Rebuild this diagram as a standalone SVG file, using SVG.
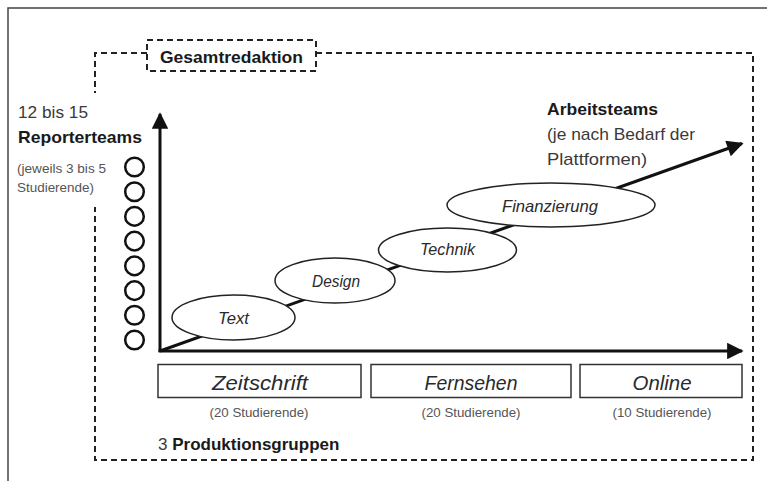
<svg xmlns="http://www.w3.org/2000/svg" width="767" height="481" viewBox="0 0 767 481">
  <defs>
    <marker id="arrow" viewBox="0 0 10 10" refX="9" refY="5" markerWidth="6" markerHeight="5.5" markerUnits="strokeWidth" orient="auto">
      <path d="M0,0 L10,5 L0,10 Z" fill="#111"/>
    </marker>
    <style>
      text { font-family: "Liberation Sans", Arial, sans-serif; fill: #222; }
      .bold { font-weight: bold; fill: #1a1a1a; }
      .light { fill: #3a3a3a; }
      .small { font-size: 13px; fill: #555; }
      .label { font-style: italic; font-size: 16.5px; text-anchor: middle; fill: #2a2a2a; }
      .plat { font-style: italic; font-size: 21px; text-anchor: middle; fill: #2a2a2a; }
      .dash { fill: none; stroke: #222; stroke-width: 2; stroke-dasharray: 6 4; }
      .axis { fill: none; stroke: #111; stroke-width: 3; }
      .ell { fill: #fff; stroke: #222; stroke-width: 1.5; }
      .box { fill: #fff; stroke: #333; stroke-width: 1.5; }
      .team { fill: none; stroke: #111; stroke-width: 2.5; }
    </style>
  </defs>

  <rect width="767" height="481" fill="#fff"/>

  <!-- outer frame -->
  <g id="frame">
    <path d="M8,481 L8,8 L767,8" fill="none" stroke="#444" stroke-width="1.5"/>
  </g>

  <!-- Gesamtredaktion dashed region -->
  <g id="gesamtredaktion-region">
    <path class="dash" d="M147,53 L95,53 L95,93"/>
    <path class="dash" d="M316,53 L753,53 L753,460 L95,460 L95,207"/>
  </g>

  <g id="gesamtredaktion">
    <rect class="dash" x="147" y="40" width="169" height="31" fill="#fff"/>
    <text class="bold" x="231.5" y="63" font-size="17" text-anchor="middle" textLength="143" lengthAdjust="spacingAndGlyphs">Gesamtredaktion</text>
  </g>

  <!-- Reporterteams -->
  <g id="reporterteams-label">
    <text class="light" x="18" y="118" font-size="17" textLength="70" lengthAdjust="spacingAndGlyphs">12 bis 15</text>
    <text class="bold" x="18" y="143" font-size="17" textLength="124" lengthAdjust="spacingAndGlyphs">Reporterteams</text>
    <text class="small" x="17" y="173" textLength="89" lengthAdjust="spacingAndGlyphs">(jeweils 3 bis 5</text>
    <text class="small" x="17" y="192" textLength="77" lengthAdjust="spacingAndGlyphs">Studierende)</text>
  </g>

  <g id="reporterteams">
    <circle class="team" cx="134.5" cy="167" r="9.3"/>
    <circle class="team" cx="134.5" cy="191.7" r="9.3"/>
    <circle class="team" cx="134.5" cy="216.4" r="9.3"/>
    <circle class="team" cx="134.5" cy="241.1" r="9.3"/>
    <circle class="team" cx="134.5" cy="265.9" r="9.3"/>
    <circle class="team" cx="134.5" cy="290.6" r="9.3"/>
    <circle class="team" cx="134.5" cy="315.3" r="9.3"/>
    <circle class="team" cx="134.5" cy="340" r="9.3"/>
  </g>

  <!-- connectors: axes and diagonal -->
  <g id="connectors">
    <line class="axis" x1="160" y1="352" x2="160" y2="114" marker-end="url(#arrow)"/>
    <line class="axis" x1="158.5" y1="351" x2="742" y2="351" marker-end="url(#arrow)"/>
    <line class="axis" x1="160" y1="351" x2="742" y2="143.5" marker-end="url(#arrow)"/>
  </g>

  <!-- ellipses -->
  <g id="text-node">
    <ellipse class="ell" cx="233.5" cy="317.5" rx="61.5" ry="22.5"/>
    <text class="label" x="233.5" y="324" textLength="31" lengthAdjust="spacingAndGlyphs">Text</text>
  </g>
  <g id="design-node">
    <ellipse class="ell" cx="335" cy="280.5" rx="60" ry="22.5"/>
    <text class="label" x="336" y="287" textLength="48" lengthAdjust="spacingAndGlyphs">Design</text>
  </g>
  <g id="technik-node">
    <ellipse class="ell" cx="447.5" cy="250" rx="69" ry="22"/>
    <text class="label" x="447.5" y="255" textLength="55" lengthAdjust="spacingAndGlyphs">Technik</text>
  </g>
  <g id="finanzierung-node">
    <ellipse class="ell" cx="551" cy="205" rx="104" ry="22"/>
    <text class="label" x="550" y="212" textLength="96" lengthAdjust="spacingAndGlyphs">Finanzierung</text>
  </g>

  <!-- Arbeitsteams label -->
  <g id="arbeitsteams-label">
    <text class="bold" x="547" y="115" font-size="17" textLength="111" lengthAdjust="spacingAndGlyphs">Arbeitsteams</text>
    <text class="light" x="547" y="140" font-size="17" textLength="148" lengthAdjust="spacingAndGlyphs">(je nach Bedarf der</text>
    <text class="light" x="547" y="165" font-size="17" textLength="100" lengthAdjust="spacingAndGlyphs">Plattformen)</text>
  </g>

  <!-- platforms -->
  <g id="zeitschrift">
    <rect class="box" x="158" y="364.5" width="203" height="33"/>
    <text class="plat" x="260" y="390" textLength="96" lengthAdjust="spacingAndGlyphs">Zeitschrift</text>
    <text class="small" x="259" y="417" text-anchor="middle" textLength="99" lengthAdjust="spacingAndGlyphs">(20 Studierende)</text>
  </g>
  <g id="fernsehen">
    <rect class="box" x="371" y="364.5" width="200" height="33"/>
    <text class="plat" x="471" y="390" textLength="93" lengthAdjust="spacingAndGlyphs">Fernsehen</text>
    <text class="small" x="471" y="417" text-anchor="middle" textLength="99" lengthAdjust="spacingAndGlyphs">(20 Studierende)</text>
  </g>
  <g id="online">
    <rect class="box" x="580" y="364.5" width="162" height="33"/>
    <text class="plat" x="662" y="390" textLength="59" lengthAdjust="spacingAndGlyphs">Online</text>
    <text class="small" x="662" y="417" text-anchor="middle" textLength="99" lengthAdjust="spacingAndGlyphs">(10 Studierende)</text>
  </g>

  <g id="produktionsgruppen-label">
    <text x="158" y="450" font-size="17"><tspan class="light">3 </tspan><tspan class="bold">Produktionsgruppen</tspan></text>
  </g>
</svg>
